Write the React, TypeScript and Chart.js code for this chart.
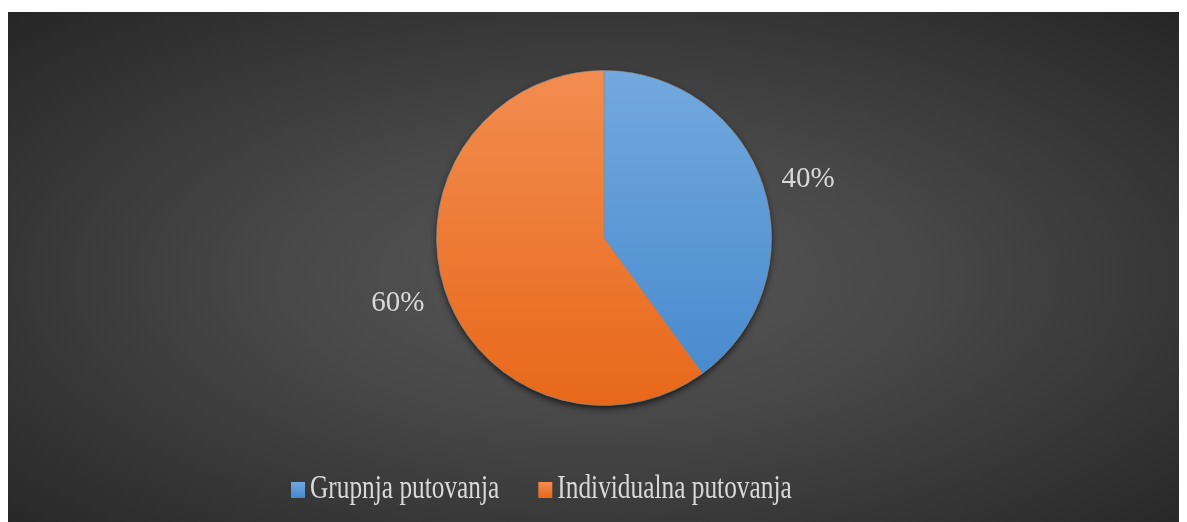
import React, { useEffect, useRef } from "react";
import { Chart, registerables } from "chart.js";

Chart.register(...registerables);

const categories: string[] = ["Grupnja putovanja", "Individualna putovanja"];
const values: number[] = [40, 60];
const topColors: string[] = ["#72a9de", "#f28d50"];
const bottomColors: string[] = ["#4587cd", "#e8681a"];
const labelNudgeX: number[] = [3, -5];
const labelNudgeY: number[] = [7, 0];

const FONT = '"Liberation Serif", "Times New Roman", serif';
const TEXT_COLOR = "#d9d9d9";

export default function App() {
  const canvasRef = useRef<HTMLCanvasElement | null>(null);

  useEffect(() => {
    const canvas = canvasRef.current;
    if (!canvas) return;
    const prevOverflow = document.body.style.overflow;
    document.body.style.overflow = "hidden";

    const decor = {
      id: "decor",
      beforeDatasetsDraw(chart: any) {
        const meta = chart.getDatasetMeta(0);
        const arc = meta.data[0];
        if (!arc) return;
        const { x, y, outerRadius } = arc.getProps(["x", "y", "outerRadius"], true);
        const ctx = chart.ctx;
        ctx.save();
        ctx.shadowColor = "rgba(0,0,0,0.75)";
        ctx.shadowBlur = 7;
        ctx.shadowOffsetX = 0;
        ctx.shadowOffsetY = 3;
        ctx.fillStyle = "#505050";
        ctx.beginPath();
        ctx.arc(x, y, outerRadius - 0.5, 0, Math.PI * 2);
        ctx.fill();
        ctx.restore();
      },
      afterDatasetsDraw(chart: any) {
        const ctx = chart.ctx;
        const meta = chart.getDatasetMeta(0);
        const total = values.reduce((a, b) => a + b, 0);
        ctx.save();
        ctx.font = `29px ${FONT}`;
        ctx.fillStyle = TEXT_COLOR;
        ctx.textAlign = "center";
        ctx.textBaseline = "middle";
        meta.data.forEach((el: any, i: number) => {
          const { x, y, startAngle, endAngle, outerRadius } = el.getProps(
            ["x", "y", "startAngle", "endAngle", "outerRadius"],
            true
          );
          const mid = (startAngle + endAngle) / 2;
          const d = outerRadius + 44;
          const pct = Math.round((values[i] / total) * 100);
          ctx.fillText(
            `${pct}%`,
            x + Math.cos(mid) * d + labelNudgeX[i],
            y + Math.sin(mid) * d + labelNudgeY[i]
          );
        });
        // legend
        ctx.font = `33px ${FONT}`;
        ctx.textAlign = "left";
        ctx.textBaseline = "alphabetic";
        const sx = 0.768;
        let lx = 283;
        const baseY = 486;
        categories.forEach((name, i) => {
          const g = ctx.createLinearGradient(0, baseY - 16, 0, baseY);
          g.addColorStop(0, topColors[i]);
          g.addColorStop(1, bottomColors[i]);
          ctx.fillStyle = g;
          ctx.fillRect(lx, baseY - 16, 14, 16);
          lx += 19;
          ctx.fillStyle = TEXT_COLOR;
          ctx.save();
          ctx.translate(lx, baseY);
          ctx.scale(sx, 1);
          ctx.fillText(name, 0, 0);
          ctx.restore();
          lx += ctx.measureText(name).width * sx + 39;
        });
        ctx.restore();
      },
    };

    const chart = new Chart(canvas, {
      type: "pie",
      data: {
        labels: categories,
        datasets: [
          {
            data: values,
            backgroundColor: (c: any) => {
              const i = c.dataIndex;
              const area = c.chart.chartArea;
              if (!area) return topColors[i];
              const g = c.chart.ctx.createLinearGradient(0, area.top, 0, area.bottom);
              g.addColorStop(0, topColors[i]);
              g.addColorStop(1, bottomColors[i]);
              return g;
            },
            borderColor: "rgba(140,140,140,0.7)",
            borderWidth: 1,
          },
        ],
      },
      options: {
        animation: false,
        responsive: true,
        maintainAspectRatio: false,
        layout: { padding: { top: 58, bottom: 116, left: 13, right: 0 } },
        plugins: {
          legend: { display: false },
          tooltip: { enabled: false },
        },
      },
      plugins: [decor],
    });

    return () => {
      chart.destroy();
      document.body.style.overflow = prevOverflow;
    };
  }, []);

  return (
    <div
      style={{
        marginTop: 4,
        height: 510,
        width: 1179,
        position: "relative",
        background:
          "radial-gradient(ellipse farthest-corner at 50% 52%, #575757 0%, #474747 40%, #262626 100%)",
      }}
    >
      <canvas ref={canvasRef} />
    </div>
  );
}
